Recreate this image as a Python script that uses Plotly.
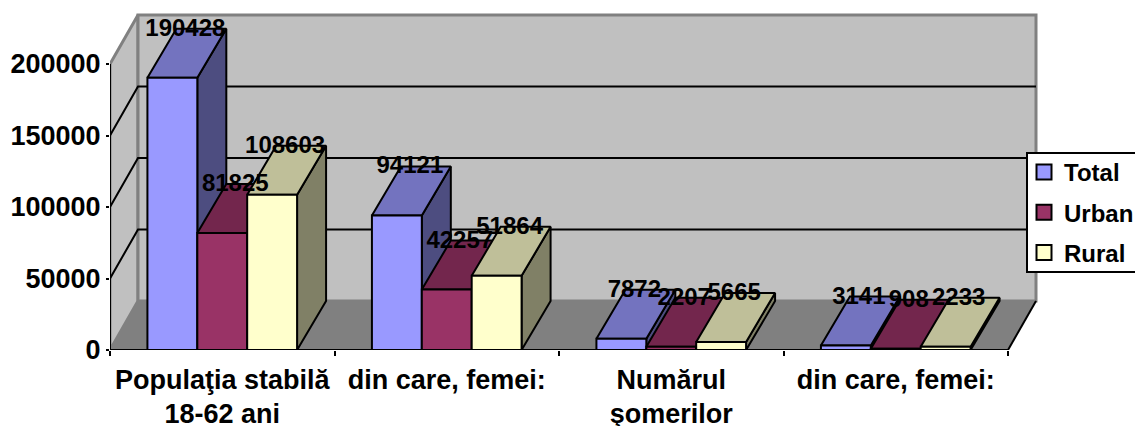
import plotly.graph_objects as go

categories = ["Populaţia stabilă", "din care, femei:", "Numărul", "din care, femei:"]
categories_line2 = ["18-62 ani", "", "şomerilor", ""]
total = [190428, 94121, 7872, 3141]
urban = [81825, 42257, 2207, 908]
rural = [108603, 51864, 5665, 2233]
y_ticks = [0, 50000, 100000, 150000, 200000]

W, H = 1135, 426
PX_L, PX_R, PX_T, PX_B = 110, 1040, 10, 350
CAT_PX = 224.5
VAL_PX = 286 / 200000
WALL_DX = 28 / CAT_PX
BAR_DX = 29 / CAT_PX
DY = 49 / VAL_PX
N = len(categories)
BAR_W = 1 / 4.5
FONT = "Liberation Sans"
FS_AXIS = 27
FS_LABEL = 24
FS_LEGEND = 24

series = [
    ("Total", total, "#9999ff", "#7373bf", "#4d4d80"),
    ("Urban", urban, "#993366", "#73264d", "#4d1a33"),
    ("Rural", rural, "#ffffcc", "#bfbf99", "#808066"),
]

fig = go.Figure()


def poly(xs, ys, fill, line, lw=2):
    fig.add_trace(go.Scatter(x=xs, y=ys, mode="lines", fill="toself", fillcolor=fill,
                             line=dict(color=line, width=lw), showlegend=False,
                             hoverinfo="skip", cliponaxis=False))


def paper_x(px):
    return (px - PX_L) / (PX_R - PX_L)


def paper_y(px):
    return (PX_B - px) / (PX_B - PX_T)


top = y_ticks[-1]
poly([0, WALL_DX, WALL_DX, 0, 0], [0, DY, top + DY, top, 0], "#c0c0c0", "#808080", 3)
poly([WALL_DX, N + WALL_DX, N + WALL_DX, WALL_DX, WALL_DX], [DY, DY, top + DY, top + DY, DY], "#c0c0c0", "#808080", 3)
poly([0, N, N + WALL_DX, WALL_DX, 0], [0, 0, DY, DY, 0], "#808080", "#808080", 1)

# grid lines on the walls, right floor edge, and the two axis lines
gx, gy = [], []
for v in y_ticks[1:-1]:
    gx += [0, WALL_DX, N + WALL_DX, None]
    gy += [v, v + DY, v + DY, None]
gx += [N, N + WALL_DX, None, 0, 0, None, 0, N]
gy += [0, DY, None, 0, top, None, 0, 0]
fig.add_trace(go.Scatter(x=gx, y=gy, mode="lines", line=dict(color="black", width=2),
                         showlegend=False, hoverinfo="skip", cliponaxis=False))

lx, ly, lt = [], [], []
for s, (name, vals, front, topc, side) in enumerate(series):
    fx, fy, tx, ty, sx, sy = [], [], [], [], [], []
    for c, v in enumerate(vals):
        x0 = c + 0.75 * BAR_W + s * BAR_W
        x1 = x0 + BAR_W
        fx += [x0, x1, x1, x0, x0, None]
        fy += [0, 0, v, v, 0, None]
        tx += [x0, x1, x1 + BAR_DX, x0 + BAR_DX, x0, None]
        ty += [v, v, v + DY, v + DY, v, None]
        sx += [x1, x1 + BAR_DX, x1 + BAR_DX, x1, x1, None]
        sy += [0, DY, v + DY, v, 0, None]
        lx.append((x0 + x1) / 2 + 13 / CAT_PX)
        ly.append(v + DY - 1 / VAL_PX)
        lt.append(str(v))
    poly(sx, sy, side, "black")
    poly(tx, ty, topc, "black")
    poly(fx, fy, front, "black")

fig.add_trace(go.Scatter(x=lx, y=ly, text=lt, mode="text", textposition="middle center",
                         textfont=dict(family=FONT, size=FS_LABEL, color="black", weight=700),
                         showlegend=False, hoverinfo="skip", cliponaxis=False))

for name, vals, front, _, _ in series:
    fig.add_trace(go.Scatter(x=[None], y=[None], mode="markers", name=name, legendgroup=name,
                             marker=dict(symbol="square", size=15, color=front,
                                         line=dict(color="black", width=2))))

# second line of the category labels sits on its own overlaying axis
fig.add_trace(go.Scatter(x=[None], y=[None], xaxis="x2", showlegend=False, hoverinfo="skip"))

xrange = [0, (PX_R - PX_L) / CAT_PX]
fig.update_layout(
    width=W, height=H,
    margin=dict(l=PX_L, r=W - PX_R, t=PX_T, b=H - PX_B, pad=0, autoexpand=False),
    paper_bgcolor="white", plot_bgcolor="rgba(0,0,0,0)",
    font=dict(family=FONT, size=FS_AXIS, color="black", weight=700),
    hovermode=False,
    xaxis=dict(range=xrange, showgrid=False, zeroline=False, showline=False,
               tickvals=[i + 0.5 for i in range(N)], ticktext=categories, ticks="", tickangle=0,
               ticklabelstandoff=11, tickfont=dict(family=FONT, size=FS_AXIS, weight=700),
               minor=dict(tickvals=list(range(N + 1)), ticks="outside", ticklen=5, tickwidth=2, tickcolor="black")),
    xaxis2=dict(range=xrange, overlaying="x", side="bottom", showgrid=False, zeroline=False, showline=False,
                tickvals=[i + 0.5 for i in range(N) if categories_line2[i]],
                ticktext=[t for t in categories_line2 if t], ticks="", tickangle=0,
                ticklabelstandoff=45, tickfont=dict(family=FONT, size=FS_AXIS, weight=700)),
    yaxis=dict(range=[0, (PX_B - PX_T) / VAL_PX], showgrid=False, zeroline=False, showline=False,
               tickvals=y_ticks, ticks="outside", ticklen=3, tickwidth=2,
               tickcolor="black", tickfont=dict(family=FONT, size=FS_AXIS, weight=700), tickformat="d"),
    shapes=[dict(type="rect", xref="paper", yref="paper", layer="above",
                 x0=paper_x(1027), x1=paper_x(1140), y0=paper_y(272), y1=paper_y(153),
                 fillcolor="white", line=dict(color="black", width=2))],
    legend=dict(x=paper_x(1029), xanchor="left", y=paper_y(150), yanchor="top",
                bgcolor="rgba(0,0,0,0)", borderwidth=0, tracegroupgap=6, indentation=-5,
                font=dict(family=FONT, size=FS_LEGEND, color="black", weight=700), itemclick=False, itemdoubleclick=False),
)

fig.write_html("out.html", config={"displayModeBar": False}, post_script="document.body.style.margin='0';")
